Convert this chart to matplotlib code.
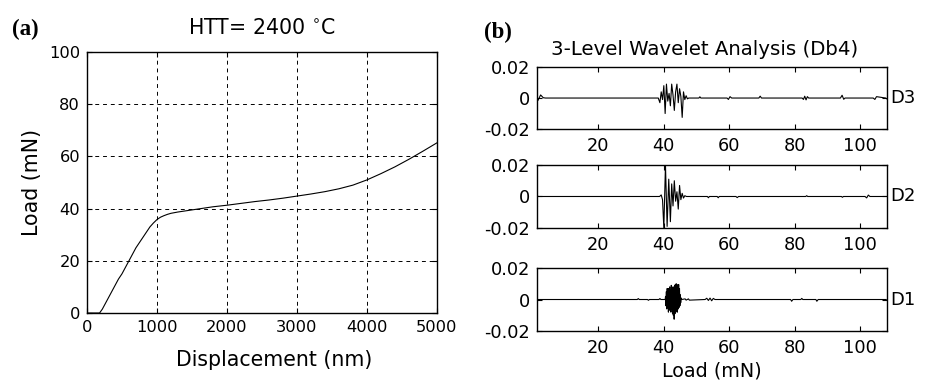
import matplotlib
matplotlib.use("Agg")
import matplotlib.pyplot as plt

plt.rcParams['font.family'] = ['DejaVu Sans']
plt.rcParams['axes.unicode_minus'] = False

# ---- (a) load-displacement curve ----
displacement = [0, 100, 180, 220, 260, 300, 350, 400, 450, 500, 550, 600, 650, 700,
                750, 800, 850, 900, 950, 1000, 1050, 1100, 1150, 1200, 1300, 1400,
                1500, 1600, 1700, 1800, 1900, 2000, 2200, 2400, 2600, 2800, 3000,
                3200, 3400, 3600, 3800, 4000, 4200, 4400, 4600, 4800, 5000]
load = [0, 0, 0, 1.5, 3.5, 5.5, 8, 10.5, 13, 15, 17.5, 20, 22.5, 25,
        27, 29, 31, 33, 34.5, 35.8, 36.7, 37.3, 37.8, 38.2, 38.7, 39.1,
        39.5, 39.9, 40.3, 40.7, 41.0, 41.3, 42.0, 42.7, 43.3, 44.0, 44.8,
        45.6, 46.5, 47.6, 49.0, 51.0, 53.4, 56.0, 58.9, 62.0, 65.2]
disp_ticks = [0, 1000, 2000, 3000, 4000, 5000]
load_ticks = [0, 20, 40, 60, 80, 100]

# ---- (b) Db4 detail coefficients D3, D2, D1 versus load ----
d3_load = [1.4, 1.7, 2.5, 3.3, 4.0, 38.4, 38.9, 39.3, 39.7, 40.1, 40.5, 40.9, 41.3,
           41.7, 42.1, 42.5, 42.9, 43.3, 43.7, 44.1, 44.5, 44.9, 45.3, 45.7, 46.1,
           46.5, 46.9, 47.3, 47.7, 50.8, 51.1, 51.4, 59.4, 59.8, 60.3, 60.8,
           69.1, 69.5, 69.9, 82.3, 82.7, 83.1, 83.5, 83.9, 84.3, 94.0, 94.5, 95.0,
           95.4, 104.0, 104.5, 105.0, 107.8, 108.2]
d3_val = [-0.002, -0.0015, 0.002, 0.0002, 0, 0, -0.003, 0.004, -0.001, 0.008, -0.010,
          0.009, -0.002, 0.003, -0.005, 0.009, 0.002, -0.008, 0.004, 0.009, -0.003,
          0.006, 0.001, -0.0125, 0.004, -0.001, 0.0015, -0.0005, 0, 0, 0.0008, 0,
          0, -0.0009, 0.0009, 0, 0, 0.0012, 0, 0, -0.0009, 0.0012, -0.0012,
          0.0009, 0, 0, 0.0018, -0.0008, 0, 0, -0.0009, 0.0009, 0, -0.0006]

d2_load = [1.4, 1.8, 2.2, 38.8, 39.3, 39.7, 40.1, 40.6, 41.1, 41.6, 42.1, 42.5, 42.9,
           43.3, 43.7, 44.1, 44.5, 44.9, 45.3, 45.7, 46.1, 46.5, 47.0, 53.4, 53.7,
           54.0, 56.4, 56.7, 57.0, 62.1, 62.5, 62.9, 83.4, 83.7, 84.0, 94.3, 94.6,
           94.9, 101.5, 102.0, 102.5, 103.0, 108.2]
d2_val = [0.0006, 0, 0, 0, 0.001, -0.002, -0.020, 0.020, -0.019, 0.011, -0.016, 0.008,
          -0.006, 0.010, -0.003, 0.003, -0.008, 0.007, -0.002, 0.002, -0.001, 0.0005,
          0, 0, -0.0008, 0, 0, -0.0008, 0, 0, -0.0007, 0, 0, 0.0005, 0, 0,
          -0.0005, 0, 0, -0.0009, 0.0009, 0, 0]

d1_load = [1.4, 32.0, 32.3, 32.6, 35.1, 35.4, 35.7, 38.6, 38.9, 39.2, 40.5, 40.625,
           40.75, 40.875, 41.0, 41.125, 41.25, 41.375, 41.5, 41.625, 41.75, 41.875,
           42.0, 42.125, 42.25, 42.375, 42.5, 42.625, 42.75, 42.875, 43.0, 43.125,
           43.25, 43.375, 43.5, 43.625, 43.75, 43.875, 44.0, 44.125, 44.25, 44.375,
           44.5, 44.625, 44.75, 44.875, 45.0, 45.125, 45.25, 45.375, 45.5, 46.6,
           46.9, 47.6, 47.9, 52.7, 53.2, 53.7, 54.2, 54.7, 55.2, 55.7, 78.8, 79.1,
           79.5, 81.9, 82.2, 82.5, 86.5, 86.8, 87.2, 107.9, 108.2]
d1_val = [0, 0, 0.0006, 0, 0, -0.0005, 0, 0, 0.0006, 0, 0, 0.002,
          -0.004, 0.005, -0.006, 0.007, -0.005, 0.006, -0.008, 0.007, -0.006, 0.008,
          -0.007, 0.006, -0.008, 0.009, -0.006, 0.008, -0.009, 0.007, -0.010, 0.008,
          -0.0125, 0.009, -0.009, 0.0095, -0.008, 0.010, -0.007, 0.0095, -0.008, 0.009,
          -0.006, 0.0095, -0.005, 0.007, -0.004, 0.003, -0.002, 0.001, 0, 0.0004,
          -0.0004, 0.0004, -0.0004, 0, 0.0008, -0.0006, 0.0009, -0.0008, 0.0007, 0, 0,
          -0.0011, 0, 0, 0.0007, 0, 0, -0.0011, 0, 0, -0.0005]

detail_names = ['D3', 'D2', 'D1']
detail_load = [d3_load, d2_load, d1_load]
detail_val = [d3_val, d2_val, d1_val]
wav_xticks = [20, 40, 60, 80, 100]
wav_yticks = [-0.02, 0, 0.02]
wav_yticklabels = ['-0.02', '0', '0.02']


def style_axes(ax, fs, pad):
    ax.tick_params(direction='in', top=True, right=True, length=3.5, width=0.8,
                   labelsize=fs, pad=pad)
    for s in ax.spines.values():
        s.set_linewidth(1.0)
        s.set_color('black')


fig = plt.figure(figsize=(9.32, 3.92), dpi=100)

# (a)
axa = fig.add_axes([0.0933, 0.2015, 0.3755, 0.6658])
axa.plot(displacement, load, color='black', lw=0.8)
axa.set_xlim(0, 5000)
axa.set_ylim(0, 100)
axa.set_xticks(disp_ticks)
axa.set_yticks(load_ticks)
axa.grid(True, color='black', linestyle=(0, (4, 4)), linewidth=0.7)
style_axes(axa, 11.7, 5)
axa.set_xlabel('Displacement (nm)', fontsize=14.8)
axa.xaxis.set_label_coords(0.534, -0.14)
axa.set_ylabel('Load (mN)', fontsize=14.8, labelpad=5)
axa.set_title(r'HTT= 2400 $^{\circ}$C', fontsize=14.8, pad=13)
fig.text(0.013, 0.925, '(a)', fontsize=16.5, fontweight='bold',
         family=['Liberation Serif', 'DejaVu Serif'], va='center')

# (b)
wav_boxes = [[0.5762, 0.6709, 0.3755, 0.158],
             [0.5762, 0.4184, 0.3755, 0.1607],
             [0.5762, 0.1556, 0.3755, 0.1607]]
for box, name, xs, ys in zip(wav_boxes, detail_names, detail_load, detail_val):
    ax = fig.add_axes(box)
    ax.plot(xs, ys, color='black', lw=0.8)
    ax.set_xlim(1.4, 108.2)
    ax.set_ylim(-0.02, 0.02)
    ax.set_xticks(wav_xticks)
    ax.set_yticks(wav_yticks)
    ax.set_yticklabels(wav_yticklabels)
    style_axes(ax, 12.8, 6)
    ax.tick_params(axis='y', pad=5)
    ax.text(1.008, 0.5, name, transform=ax.transAxes, fontsize=13,
            va='center', ha='left')
    if name == 'D3':
        ax.set_title('3-Level Wavelet Analysis (Db4)', fontsize=14.2, pad=9)
        ax.title.set_x(0.48)
    if name == 'D1':
        ax.set_xlabel('Load (mN)', fontsize=13.8, labelpad=3)

fig.text(0.519, 0.918, '(b)', fontsize=16.5, fontweight='bold',
         family=['Liberation Serif', 'DejaVu Serif'], va='center')

fig.savefig('out.png', dpi=100)
